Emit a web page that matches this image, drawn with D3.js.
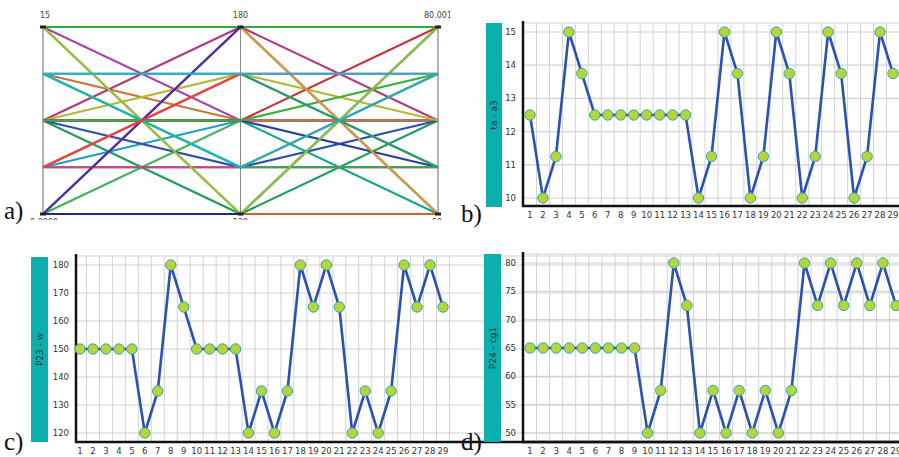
<!DOCTYPE html>
<html>
<head>
<meta charset="utf-8">
<script src="https://cdnjs.cloudflare.com/ajax/libs/d3/7.8.5/d3.min.js"></script>
<style>
  body { margin: 0; background: #fff; }
  svg { display: block; font-family: "DejaVu Sans", sans-serif; }
</style>
</head>
<body>
<div id="wrapper"></div>
<script>
// run numbers on the x axis of b, c, d
const runs = ["1","2","3","4","5","6","7","8","9","10","11","12","13","14","15",
  "16","17","18","19","20","21","22","23","24","25","26","27","28","29"]

// series (one value per run)
const seriesT = [12.5,10,11.25,15,13.75,12.5,12.5,12.5,12.5,12.5,12.5,12.5,12.5,10,11.25,
  15,13.75,10,11.25,15,13.75,10,11.25,15,13.75,10,11.25,15,13.75]
const seriesW = [150,150,150,150,150,120,135,180,165,150,150,150,150,120,135,
  120,135,180,165,180,165,120,135,120,135,180,165,180,165]
const seriesCg = [65,65,65,65,65,65,65,65,65,50,57.5,80,72.5,50,57.5,
  50,57.5,50,57.5,50,57.5,80,72.5,80,72.5,80,72.5,80,72.5]

// tick labels
const tTicks = [10,11,12,13,14,15]
const wTicks = [120,130,140,150,160,170,180]
const cgTicks = [50,55,60,65,70,75,80]

// parallel coordinates axes (panel a)
const pcAxes = ["t","w","cg"]
const pcTopLabels = ["15","180","80.001"]
const pcBottomLabels = ["0.0000","120","50"]

// one colour per run in panel a
const lineColors = ["#2ca02c","#45b05a","#1f9fc0","#a347a8","#c8743a","#1e9e5a","#2f4fb0",
  "#b03c7c","#b5b836","#17a58a","#2a3f9f","#c8323f","#3cae3c","#1c237f","#c4477f",
  "#d0602e","#2aaa4a","#5a2ea0","#e04444","#d4a032","#14a878","#22268c","#c04a88",
  "#8dc63f","#1cb5b5","#55309e","#e5473f","#2bab3c","#2eaed0"]

const wrapper = d3.select("#wrapper")
  .append("svg")
  .attr("width", 899)
  .attr("height", 457)

// ---------- a) parallel coordinates ----------
function drawParallel() {
  const g = wrapper.append("g")
  g.append("clipPath").attr("id", "clipA")
    .append("rect").attr("x", 0).attr("y", 0).attr("width", 450).attr("height", 220)
  const bounds = g.append("g").attr("clip-path", "url(#clipA)")

  const xScale = d3.scalePoint().domain(pcAxes).range([43, 438])
  const yScales = {
    t: d3.scaleLinear().domain([10, 15]).range([214, 27]),
    w: d3.scaleLinear().domain([120, 180]).range([214, 27]),
    cg: d3.scaleLinear().domain([50, 80]).range([214, 27]),
  }

  pcAxes.forEach((a, i) => {
    bounds.append("line")
      .attr("x1", xScale(a)).attr("x2", xScale(a))
      .attr("y1", yScales[a].range()[1]).attr("y2", yScales[a].range()[0])
      .attr("stroke", i === 1 ? "#8a8a8a" : "#b4b4b4")
      .attr("stroke-width", i === 1 ? 1 : 2)
  })

  const rows = runs.map((r, i) => [seriesT[i], seriesW[i], seriesCg[i]])
  const lineGenerator = d3.line()
    .x((d, k) => xScale(pcAxes[k]))
    .y((d, k) => yScales[pcAxes[k]](d))

  bounds.selectAll(".pc-line")
    .data(rows)
    .join("path")
    .attr("class", "pc-line")
    .attr("d", lineGenerator)
    .attr("fill", "none")
    .attr("stroke", (d, i) => lineColors[i])
    .attr("stroke-width", 2.2)

  // ends of the axes
  pcAxes.forEach(a => {
    yScales[a].range().forEach(y => {
      bounds.append("rect")
        .attr("x", xScale(a) - 3).attr("y", y - 1.5)
        .attr("width", 6).attr("height", 3)
        .attr("fill", "#222")
    })
  })

  pcAxes.forEach((a, i) => {
    const anchor = i === 1 ? "middle" : "start"
    const dx = i === 0 ? -3 : i === 1 ? 0 : -14
    bounds.append("text")
      .attr("x", xScale(a) + dx).attr("y", 18)
      .attr("text-anchor", anchor)
      .attr("font-size", 8).attr("fill", "#444")
      .text(pcTopLabels[i])
    bounds.append("text")
      .attr("x", xScale(a) + (i === 0 ? -13 : i === 1 ? 0 : -6)).attr("y", 225)
      .attr("text-anchor", anchor)
      .attr("font-size", 8).attr("fill", "#444")
      .text(pcBottomLabels[i])
  })
}

// ---------- b), c), d) run charts ----------
function drawRunChart(p) {
  const g = wrapper.append("g")

  const xScale = d3.scalePoint().domain(runs).range([p.xFirst, p.xLast])
  const step = xScale.step()
  const yScale = d3.scaleLinear().domain(p.domain).range(p.yRange)

  // label bar
  g.append("rect")
    .attr("x", p.bar[0]).attr("y", p.bar[1])
    .attr("width", p.bar[2]).attr("height", p.bar[3])
    .attr("fill", "#0bb0ae")
  g.append("text")
    .attr("transform", `translate(${p.bar[0] + p.bar[2] / 2 + 3}, ${p.bar[1] + p.bar[3] / 2}) rotate(-90)`)
    .attr("text-anchor", "middle")
    .attr("font-size", 9).attr("fill", "#2a3a3a")
    .text(p.title)

  // grid
  const gridV = runs.map(r => xScale(r) + step / 2)
  g.selectAll(".grid-v")
    .data(gridV)
    .join("line")
    .attr("x1", d => d).attr("x2", d => d)
    .attr("y1", p.plotTop).attr("y2", p.axisY)
    .attr("stroke", "#d2d2d2").attr("stroke-width", 1)
  g.selectAll(".grid-h")
    .data(p.ticks)
    .join("line")
    .attr("x1", p.axisX).attr("x2", 899)
    .attr("y1", d => yScale(d)).attr("y2", d => yScale(d))
    .attr("stroke", "#d2d2d2").attr("stroke-width", 1.2)
  g.append("line")
    .attr("x1", p.axisX).attr("x2", 899)
    .attr("y1", p.plotTop).attr("y2", p.plotTop)
    .attr("stroke", "#d2d2d2").attr("stroke-width", 1.2)

  // axes
  g.append("line")
    .attr("x1", p.axisX).attr("x2", p.axisX)
    .attr("y1", p.plotTop - 2).attr("y2", p.axisY + 1)
    .attr("stroke", "#111").attr("stroke-width", 2.5)
  g.append("line")
    .attr("x1", p.axisX - 1).attr("x2", 899)
    .attr("y1", p.axisY).attr("y2", p.axisY)
    .attr("stroke", "#111").attr("stroke-width", 2.5)

  g.selectAll(".y-tick")
    .data(p.ticks)
    .join("text")
    .attr("x", p.axisX - 7)
    .attr("y", d => yScale(d) + 3)
    .attr("text-anchor", "end")
    .attr("font-size", 8.5).attr("fill", "#333")
    .text(d => d)

  g.selectAll(".x-tick")
    .data(runs)
    .join("text")
    .attr("x", d => xScale(d))
    .attr("y", p.axisY + 12)
    .attr("text-anchor", "middle")
    .attr("font-size", 8.5).attr("fill", "#333")
    .text(d => d)

  // data
  const lineGenerator = d3.line()
    .x((d, i) => xScale(runs[i]))
    .y(d => yScale(d))
  g.append("path")
    .attr("d", lineGenerator(p.values))
    .attr("fill", "none")
    .attr("stroke", "#2b52b3")
    .attr("stroke-width", 2.6)
    .attr("stroke-linejoin", "round")

  g.selectAll(".dot")
    .data(p.values)
    .join("circle")
    .attr("cx", (d, i) => xScale(runs[i]))
    .attr("cy", d => yScale(d))
    .attr("r", 5.2)
    .attr("fill", "#b6d53c")
    .attr("stroke", "#36a7a2")
    .attr("stroke-width", 1)
}

drawParallel()

drawRunChart({
  title: "ta - a3", values: seriesT, ticks: tTicks,
  domain: [10, 15], yRange: [198, 32],
  xFirst: 530, xLast: 893, axisX: 523, axisY: 206, plotTop: 23,
  bar: [486, 23, 16, 184],
})
drawRunChart({
  title: "P23 - w", values: seriesW, ticks: wTicks,
  domain: [120, 180], yRange: [433, 265],
  xFirst: 80, xLast: 443, axisX: 76, axisY: 442, plotTop: 256,
  bar: [31, 257, 17, 185],
})
drawRunChart({
  title: "P24 - cg1", values: seriesCg, ticks: cgTicks,
  domain: [50, 80], yRange: [433, 263],
  xFirst: 530, xLast: 896, axisX: 523, axisY: 442, plotTop: 254,
  bar: [484, 254, 17, 188],
})

// panel letters
const panelLetters = [["a)", 4, 219], ["b)", 461, 222], ["c)", 4, 450], ["d)", 461, 450]]
wrapper.selectAll(".panel-letter")
  .data(panelLetters)
  .join("text")
  .attr("x", d => d[1]).attr("y", d => d[2])
  .attr("font-family", "Liberation Serif, serif")
  .attr("font-size", 25)
  .attr("fill", "#111")
  .text(d => d[0])
</script>
</body>
</html>
